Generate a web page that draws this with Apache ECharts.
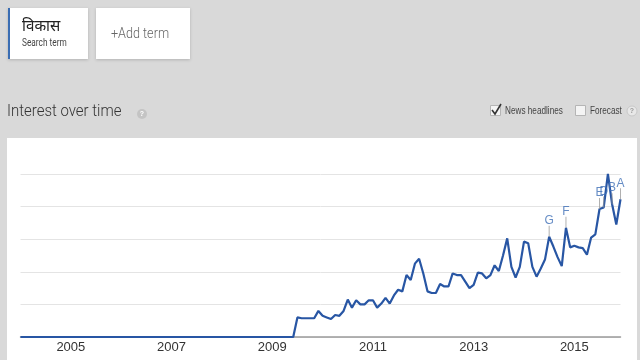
<!DOCTYPE html>
<html>
<head>
<meta charset="utf-8">
<script src="https://cdn.jsdelivr.net/npm/echarts@6/dist/echarts.min.js"></script>
<style>
html,body{margin:0;padding:0;background:#d9d9d9;}
#c{width:640px;height:360px;}
</style>
</head>
<body>
<div id="c"></div>
<script>
// Monthly categories Jan 2004 .. Dec 2015
const years = [2004,2005,2006,2007,2008,2009,2010,2011,2012,2013,2014,2015];
const monthNames = ['01','02','03','04','05','06','07','08','09','10','11','12'];
const categories = [];
years.forEach(y => monthNames.forEach(m => categories.push(y + '-' + m)));

// Interest values (0-100)
const interest = [
  0,0,0,0,0,0,0,0,0,0,0,0,          // 2004
  0,0,0,0,0,0,0,0,0,0,0,0,          // 2005
  0,0,0,0,0,0,0,0,0,0,0,0,          // 2006
  0,0,0,0,0,0,0,0,0,0,0,0,          // 2007
  0,0,0,0,0,0,0,0,0,0,0,0,          // 2008
  0,0,0,0,0,0,12,11.5,11.5,11.5,11.5,16, // 2009
  13,12,11,13.5,13,16,23,18,22.5,20,20,22.5, // 2010
  22.5,18,20.5,24,20.5,25.5,29,28,38,35,45,48, // 2011
  39,28,27,27,32.5,31,31,39,38,38,34,30, // 2012
  32,39.5,39,36,38,44,40.5,50,60.5,43,36.5,43, // 2013
  58.5,57.5,43,37,42,47.5,61.5,55.5,49,43.5,67,55, // 2014
  56,55,54.5,50.5,61,63,78.5,79.5,100,81.5,69,84.5  // 2015
];

// News headline annotations
const annotationLetters = ['G','F','E','D','B','A'];
const annotationMonths = ['2014-07','2014-11','2015-07','2015-08','2015-10','2015-12'];

// Axis labels shown
const yearTicks = ['2005','2007','2009','2011','2013','2015'];

const annData = annotationMonths.map((m, i) => {
  const idx = categories.indexOf(m);
  return { name: annotationLetters[i], value: [m, interest[idx]] };
});

const chart = echarts.init(document.getElementById('c'), null, {renderer: 'canvas'});
const option = {
  backgroundColor: '#d9d9d9',
  animation: false,
  graphic: [
    // white chart panel
    { type: 'rect', z: -10, shape: {x: 7, y: 138, width: 630, height: 240}, style: {fill: '#ffffff'} },
    // search term card
    { type: 'rect', z: -10, shape: {x: 8, y: 8, width: 80, height: 51},
      style: {fill: '#ffffff', shadowBlur: 3, shadowColor: 'rgba(0,0,0,0.18)', shadowOffsetY: 1} },
    { type: 'rect', z: -9, shape: {x: 8, y: 8, width: 2, height: 51}, style: {fill: '#3a6db3'} },
    { type: 'text', x: 22, y: 26, scaleX: 0.95, style: {text: 'विकास', font: '16px "Noto Sans", "Noto Sans Devanagari", sans-serif', fill: '#222', textVerticalAlign: 'middle'} },
    { type: 'text', x: 22, y: 43, scaleX: 0.83, style: {text: 'Search term', font: '10px Roboto, "Liberation Sans", sans-serif', fill: '#444', textVerticalAlign: 'middle'} },
    // add term card
    { type: 'rect', z: -10, shape: {x: 96, y: 8, width: 94, height: 51},
      style: {fill: '#ffffff', shadowBlur: 3, shadowColor: 'rgba(0,0,0,0.18)', shadowOffsetY: 1} },
    { type: 'text', x: 111, y: 34, scaleX: 0.9, style: {text: '+Add term', font: '300 14px Roboto, sans-serif', fill: '#666', textVerticalAlign: 'middle'} },
    // title
    { type: 'text', x: 7, y: 112, scaleX: 0.88, style: {text: 'Interest over time', font: '300 17px Roboto, sans-serif', fill: '#333', textVerticalAlign: 'middle'} },
    { type: 'circle', shape: {cx: 142, cy: 114, r: 5}, style: {fill: '#c4c4c4'} },
    { type: 'text', x: 142, y: 114, style: {text: '?', font: 'bold 7px "Liberation Sans", sans-serif', fill: '#fff', textAlign: 'center', textVerticalAlign: 'middle'} },
    // news headlines checkbox
    { type: 'rect', shape: {x: 490.5, y: 105.5, width: 10, height: 10}, style: {fill: '#f4f4f4', stroke: '#b5b5b5', lineWidth: 1} },
    { type: 'polyline', shape: {points: [[492, 110], [495, 114], [501, 104]]}, style: {stroke: '#333', lineWidth: 1.6, fill: null} },
    { type: 'text', x: 505, y: 111, scaleX: 0.82, style: {text: 'News headlines', font: '10px "Liberation Sans", sans-serif', fill: '#444', textVerticalAlign: 'middle'} },
    // forecast checkbox
    { type: 'rect', shape: {x: 575.5, y: 105.5, width: 10, height: 10}, style: {fill: '#f4f4f4', stroke: '#b5b5b5', lineWidth: 1} },
    { type: 'text', x: 590, y: 111, scaleX: 0.82, style: {text: 'Forecast', font: '10px "Liberation Sans", sans-serif', fill: '#444', textVerticalAlign: 'middle'} },
    { type: 'circle', shape: {cx: 632, cy: 111, r: 5}, style: {fill: '#e8e8e8', stroke: '#c8c8c8', lineWidth: 1} },
    { type: 'text', x: 632, y: 111, style: {text: '?', font: 'bold 7px "Liberation Sans", sans-serif', fill: '#999', textAlign: 'center', textVerticalAlign: 'middle'} }
  ],
  grid: {left: 20.5, right: 19.5, top: 174, bottom: 23, containLabel: false},
  xAxis: {
    type: 'category',
    data: categories,
    boundaryGap: false,
    axisLine: {lineStyle: {color: '#9a9a9a', width: 1.5}},
    axisTick: {show: false},
    axisLabel: {
      interval: (i, v) => yearTicks.indexOf(v.slice(0, 4)) >= 0 && v.slice(5) === '01',
      formatter: v => v.slice(0, 4),
      color: '#333',
      fontSize: 13,
      fontFamily: '"Liberation Sans", Arial, sans-serif',
      margin: 4
    },
    splitLine: {show: false}
  },
  yAxis: {
    type: 'value', min: 0, max: 100, interval: 20,
    axisLine: {show: false}, axisTick: {show: false}, axisLabel: {show: false},
    splitLine: {lineStyle: {color: '#e4e4e4', width: 1}}
  },
  series: [
    {
      type: 'line',
      data: interest,
      showSymbol: false,
      lineStyle: {color: '#2856a4', width: 2.2},
      itemStyle: {color: '#2856a4'},
      z: 3
    },
    {
      type: 'scatter',
      data: annData,
      symbol: 'rect',
      symbolSize: [1, 11],
      symbolOffset: [0, -5.5],
      itemStyle: {color: '#9c9c9c'},
      label: {
        show: true, position: 'top', distance: -1,
        formatter: p => p.name,
        color: '#3e6fb6', fontSize: 12,
        fontFamily: '"Liberation Sans", Arial, sans-serif'
      },
      z: 4
    }
  ]
};
chart.setOption(option);
</script>
</body>
</html>
